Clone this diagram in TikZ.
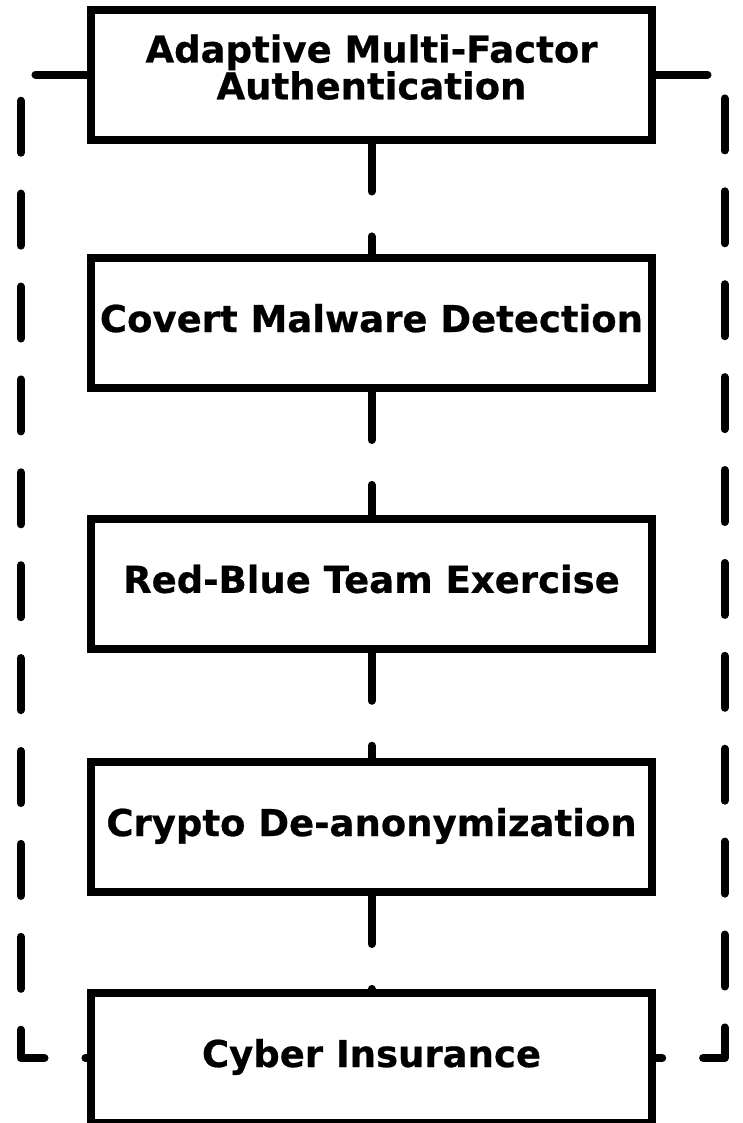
\documentclass[tikz,border=0pt]{standalone}
\usepackage{fontspec}
\setmainfont{DejaVu Sans}
\begin{document}
\begin{tikzpicture}[x=1bp, y=-1bp,
  box/.style={draw=black, line width=8bp, fill=white,
    minimum width=560bp, minimum height=130bp, inner sep=0pt,
    font=\fontsize{37bp}{35.3bp}\selectfont\bfseries\addfontfeature{FakeBold=0.6},
    align=center, text height=27bp, text depth=9bp},
  twoline/.style={text height=58.6bp, text depth=9bp},
  link/.style={line width=8bp, line cap=round, line join=round,
    dash pattern=on 48bp off 44.9bp},
  loop/.style={link, dash pattern=on 52bp off 40.9bp},
]
\useasboundingbox (0,0) rectangle (743,1123);

% the chain of controls, top to bottom
\node[box, twoline] (mfa)     at (371.5,74.5)  {Adaptive Multi-Factor\\Authentication};
\node[box]          (malware) at (371.5,323)   {Covert Malware Detection};
\node[box]          (redblue) at (371.5,583.8) {Red-Blue Team Exercise};
\node[box]          (crypto)  at (371.5,827)   {Crypto De-anonymization};
\node[box]          (insur)   at (371.5,1058)  {Cyber Insurance};

% rails of the outer loop
\coordinate (railL) at (20.8,0);
\coordinate (railR) at (724.5,0);

% central dashed links
\draw[link] (mfa) -- (malware);
\draw[link] (malware) -- (redblue);
\draw[link] (redblue) -- (crypto);
\draw[link] (crypto) -- (insur);

% outer loop from the first box to the last, on both sides
\draw[loop] (mfa.west) -- (mfa.west -| railL) -- (railL |- insur.west) -- (insur.west);
\draw[loop] (mfa.east) -- (mfa.east -| railR) -- (railR |- insur.east) -- (insur.east);
\end{tikzpicture}
\end{document}
